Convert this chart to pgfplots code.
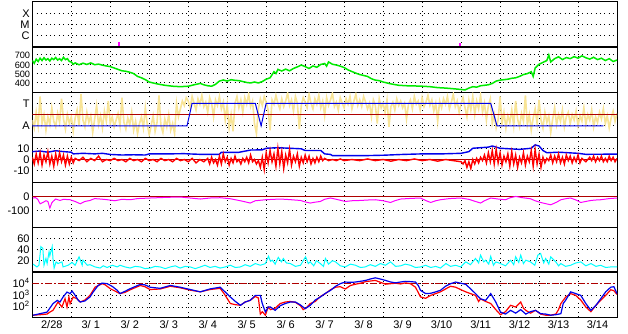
\documentclass[border=0pt]{standalone}
\usepackage{fontspec}
\setmainfont{Liberation Sans}
\usepackage{pgfplots}
\pgfplotsset{compat=1.18}
\definecolor{dred}{RGB}{175,0,0}
\definecolor{gcol}{RGB}{0,235,0}
\definecolor{bcol}{RGB}{0,0,235}
\definecolor{rcol}{RGB}{255,0,0}
\definecolor{ycol}{RGB}{248,228,150}
\definecolor{ccol}{RGB}{0,255,255}
\definecolor{mcol}{RGB}{255,0,255}
\pgfplotsset{
 panel/.style={
  scale only axis, width=584.7pt, height=45pt, xmin=0, xmax=15,
  anchor=north west, axis line style={black, line width=1pt},
  xtick={1,...,14}, xticklabels={}, major tick length=0pt, minor tick length=0pt,
  grid=major, grid style={black, line width=1pt, dash pattern=on 1pt off 3.4pt},
  tick label style={font=\fontsize{11}{12}\selectfont},
  /pgf/number format/assume math mode=true,
  yticklabel style={inner ysep=0pt, inner xsep=2.5pt, text height=7.6pt, text depth=0pt},
 }
}
\begin{document}
\begin{tikzpicture}
\useasboundingbox (0,0) rectangle (628pt,-334pt);
% Panel 1: flare class
\begin{axis}[panel, at={(32.3pt,-2pt)}, ymin=0, ymax=4, ytick={1,2,3}, yticklabels={C,M,X}]
\addplot[mcol, line width=1.6pt, ycomb, no marks] coordinates {(2.23,0.45) (10.97,0.38)};
\end{axis}
% Panel 2: speed
\begin{axis}[panel, at={(32.3pt,-47pt)}, ymin=303, ymax=785, ytick={400,500,600,700},
  yticklabel style={font=\fontsize{9.2}{9.2}\selectfont, inner xsep=2pt}]
\addplot[gcol, line width=1.5pt, no marks] coordinates {
(0.0,640)(0.05,610)(0.1,655)(0.15,630)(0.2,665)(0.25,640)(0.3,670)(0.35,645)(0.4,660)(0.45,635)
(0.5,665)(0.55,650)(0.6,672)(0.65,645)(0.7,660)(0.75,640)(0.8,675)(0.85,650)(0.9,660)(0.95,630)
(1.0,625)(1.05,600)(1.1,615)(1.2,595)(1.3,612)(1.4,598)(1.5,615)(1.6,595)(1.7,602)(1.8,590)
(1.9,582)(2.0,575)(2.1,560)(2.2,545)(2.3,530)(2.4,525)(2.5,515)(2.6,500)(2.7,470)(2.8,455)
(2.9,435)(3.0,410)(3.1,400)(3.2,390)(3.4,375)(3.6,365)(3.8,360)(4.0,365)(4.1,375)(4.2,385)
(4.31,395)(4.4,380)(4.5,370)(4.6,365)(4.7,385)(4.8,420)(4.9,432)(5.0,420)(5.1,435)(5.2,428)
(5.3,425)(5.4,415)(5.5,405)(5.6,400)(5.7,410)(5.8,400)(5.9,415)(6.0,440)(6.1,455)(6.2,520)
(6.25,500)(6.3,545)(6.4,528)(6.5,548)(6.6,530)(6.7,555)(6.8,572)(6.9,592)(7.0,575)(7.1,555)
(7.2,582)(7.3,568)(7.4,598)(7.5,608)(7.55,580)(7.6,625)(7.7,600)(7.8,592)(7.9,580)(8.0,565)
(8.1,540)(8.2,522)(8.3,505)(8.4,490)(8.5,480)(8.6,470)(8.7,445)(8.8,430)(8.9,425)(9.0,410)
(9.2,390)(9.4,375)(9.6,370)(9.8,368)(10.0,365)(10.2,360)(10.4,350)(10.6,345)(10.8,338)(11.0,330)
(11.1,325)(11.2,345)(11.3,360)(11.4,355)(11.5,370)(11.6,375)(11.7,380)(11.8,395)(11.9,420)(12.0,430)
(12.1,435)(12.2,440)(12.3,450)(12.4,455)(12.5,470)(12.6,490)(12.7,500)(12.8,520)(12.85,470)(12.9,560)
(13.0,600)(13.1,620)(13.2,640)(13.25,700)(13.3,625)(13.4,660)(13.5,680)(13.6,650)(13.7,672)(13.8,660)
(13.9,682)(14.0,665)(14.1,690)(14.2,670)(14.3,655)(14.4,675)(14.5,650)(14.6,665)(14.7,640)(14.8,660)
(14.9,630)(15.0,645)};
\end{axis}
% Panel 3: sector
\begin{axis}[panel, at={(32.3pt,-92pt)}, ymin=0, ymax=4, ytick={1,3}, yticklabels={A,T}]
\addplot[ycol, line width=1.6pt, no marks] coordinates {
(0.0,1.5)(0.05,0.8)(0.1,2.2)(0.15,1.0)(0.2,3.6)(0.25,1.2)(0.3,2.0)(0.35,0.6)(0.4,1.8)(0.45,1.1)
(0.5,2.6)(0.55,1.4)(0.6,0.9)(0.65,2.1)(0.7,1.3)(0.75,3.4)(0.8,1.6)(0.85,0.7)(0.9,2.0)(0.95,1.2)
(1.0,1.8)(1.05,0.5)(1.1,1.7)(1.15,2.4)(1.2,1.0)(1.25,3.8)(1.3,1.5)(1.35,0.9)(1.4,2.2)(1.45,1.3)
(1.5,1.9)(1.55,0.4)(1.6,1.6)(1.65,2.8)(1.7,1.1)(1.75,1.9)(1.8,0.8)(1.85,2.3)(1.9,1.4)(1.95,3.2)
(2.0,1.2)(2.05,1.8)(2.1,0.9)(2.15,1.5)(2.2,2.1)(2.25,1.0)(2.3,3.5)(2.35,1.3)(2.4,0.7)(2.45,1.7)
(2.5,1.1)(2.55,2.2)(2.6,0.6)(2.65,1.4)(2.7,0.3)(2.75,1.2)(2.8,1.8)(2.85,0.8)(2.9,2.6)(2.95,1.1)
(3.0,0.2)(3.05,1.0)(3.1,1.9)(3.15,0.5)(3.2,1.3)(3.25,3.7)(3.3,1.0)(3.35,0.4)(3.4,1.6)(3.45,0.9)
(3.5,2.0)(3.55,0.6)(3.6,1.2)(3.65,0.3)(3.7,3.0)(3.75,1.8)(3.8,2.5)(3.85,3.2)(3.9,2.8)(3.95,3.5)
(4.0,3.2)(4.05,2.6)(4.1,3.6)(4.15,3.0)(4.2,2.4)(4.25,3.4)(4.3,2.9)(4.35,3.7)(4.4,2.7)(4.45,3.1)
(4.5,2.2)(4.55,3.5)(4.6,3.0)(4.65,1.8)(4.7,3.3)(4.75,2.8)(4.8,3.6)(4.85,2.5)(4.9,3.1)(4.95,1.5)
(5.0,2.9)(5.05,0.8)(5.1,2.0)(5.15,0.5)(5.2,3.0)(5.25,3.6)(5.3,2.6)(5.35,3.3)(5.4,2.2)(5.45,3.5)
(5.5,2.9)(5.55,3.8)(5.6,2.7)(5.65,3.2)(5.7,1.2)(5.75,0.3)(5.8,2.5)(5.85,3.4)(5.9,2.8)(5.95,3.6)
(6.0,3.1)(6.05,2.4)(6.1,0.6)(6.15,3.3)(6.2,2.9)(6.25,3.7)(6.3,3.0)(6.35,2.5)(6.4,3.4)(6.45,2.7)
(6.5,3.2)(6.55,3.9)(6.6,2.8)(6.65,3.3)(6.7,2.3)(6.75,3.6)(6.8,3.0)(6.85,0.7)(6.9,2.8)(6.95,3.5)
(7.0,3.1)(7.05,2.6)(7.1,3.8)(7.15,3.0)(7.2,2.5)(7.25,3.4)(7.3,2.9)(7.35,3.7)(7.4,2.6)(7.45,3.2)
(7.5,1.9)(7.55,3.5)(7.6,2.8)(7.65,3.3)(7.7,3.9)(7.75,2.7)(7.8,3.1)(7.85,2.4)(7.9,3.5)(7.95,3.0)
(8.0,2.6)(8.05,3.4)(8.1,2.9)(8.15,3.6)(8.2,2.5)(8.25,3.2)(8.3,3.8)(8.35,2.8)(8.4,3.3)(8.45,2.7)
(8.5,3.6)(8.55,3.1)(8.6,2.5)(8.65,3.0)(8.7,1.8)(8.75,3.3)(8.8,2.8)(8.85,1.2)(8.9,3.4)(8.95,2.6)
(9.0,3.0)(9.05,2.2)(9.1,3.3)(9.15,0.9)(9.2,2.7)(9.25,3.1)(9.3,2.4)(9.35,3.4)(9.4,2.8)(9.45,3.2)
(9.5,2.6)(9.55,3.0)(9.6,1.6)(9.65,2.9)(9.7,3.3)(9.75,2.5)(9.8,3.6)(9.85,2.9)(9.9,3.2)(9.95,2.4)
(10.0,3.5)(10.05,2.7)(10.1,3.1)(10.15,3.7)(10.2,2.8)(10.25,3.3)(10.3,2.3)(10.35,3.0)(10.4,1.4)(10.45,3.2)
(10.5,2.6)(10.55,3.4)(10.6,2.9)(10.65,3.6)(10.7,2.5)(10.75,3.1)(10.8,3.8)(10.85,2.7)(10.9,3.2)(10.95,2.2)
(11.0,3.0)(11.05,3.5)(11.1,2.6)(11.15,1.8)(11.2,3.3)(11.25,2.4)(11.3,3.6)(11.35,2.0)(11.4,3.2)(11.45,2.5)
(11.5,3.7)(11.55,2.2)(11.6,3.0)(11.65,1.5)(11.7,2.8)(11.75,3.4)(11.8,1.2)(11.85,2.0)(11.9,0.8)(11.95,1.5)
(12.0,3.6)(12.05,1.2)(12.1,2.2)(12.15,0.8)(12.2,1.9)(12.25,1.3)(12.3,2.4)(12.35,1.0)(12.4,3.2)(12.45,1.6)
(12.5,0.9)(12.55,2.1)(12.6,1.4)(12.65,3.7)(12.7,1.1)(12.75,2.0)(12.8,0.6)(12.85,1.7)(12.9,2.5)(12.95,1.2)
(13.0,3.3)(13.05,1.5)(13.1,0.8)(13.15,2.2)(13.2,1.3)(13.25,1.9)(13.3,0.4)(13.35,1.6)(13.4,2.6)(13.45,1.1)
(13.5,2.0)(13.55,1.4)(13.6,2.4)(13.65,0.9)(13.7,1.8)(13.75,2.2)(13.8,1.2)(13.85,2.0)(13.9,1.5)(13.95,2.3)
(14.0,1.0)(14.05,1.9)(14.1,1.4)(14.15,2.6)(14.2,1.1)(14.25,2.0)(14.3,1.5)(14.35,2.4)(14.4,0.9)(14.45,1.8)
(14.5,1.3)(14.55,2.2)(14.6,1.6)(14.65,2.5)(14.7,1.2)(14.75,1.9)(14.8,0.8)(14.85,1.7)(14.9,2.3)(14.95,1.4)
(15.0,2.1)};
\addplot[dred, line width=1pt, no marks] coordinates {(0,2)(15,2)};
\addplot[bcol, line width=1pt, no marks] coordinates {
(0,1)(3.97,1)(4.1,3)(5.72,3)(5.87,1)(6.0,3)(11.76,3)(11.92,1)(14.65,1)};
\end{axis}
% Panel 4: IMF
\begin{axis}[panel, at={(32.3pt,-137pt)}, ymin=-20, ymax=20, ytick={-10,0,10}]
\addplot[dred, line width=1pt, no marks] coordinates {(0,0)(15,0)};
\addplot[bcol, line width=1.4pt, no marks] coordinates {
(0,7)(0.2,7.5)(0.4,6.5)(0.6,7.8)(0.8,7)(1.0,6.5)(1.05,5)(1.3,5.5)(1.6,5)(1.8,5.5)(2.0,4.5)(2.3,4)
(2.6,4.2)(2.9,4)(3.0,5)(3.5,5)(3.9,5.2)(4.0,5)(4.3,4.6)(4.8,4.6)(4.85,6.4)(5.3,6.4)(5.6,8.4)(5.9,8.6)
(6.0,10)(6.3,10.5)(6.6,10)(6.9,9.5)(7.0,8)(7.4,8)(7.5,5)(7.65,4.5)(7.7,3.4)(8.5,3.4)(9.0,3.8)(9.5,4.5)
(10.0,5)(10.5,5)(11.0,5.5)(11.2,7)(11.3,10)(11.7,11)(11.8,12)(12.0,10)(12.5,9)(12.8,10)(12.9,13)(13.0,12)
(13.1,8)(13.2,6)(13.5,6.5)(14.0,5.5)(14.2,4.6)(15,4.8)};
\addplot[rcol, line width=1.4pt, no marks] coordinates {
(0.0,2)(0.05,-4)(0.1,5)(0.15,-3)(0.2,6)(0.25,-5)(0.3,4)(0.35,-2)(0.4,7)(0.45,-4)(0.5,3)(0.55,-6)
(0.6,5)(0.65,-3)(0.7,6)(0.75,-2)(0.8,4)(0.85,-5)(0.9,3)(0.95,-4)(1.0,2)(1.05,-3)(1.1,1)(1.2,-1)
(1.3,2)(1.4,-2)(1.5,1)(1.6,-1)(1.7,3)(1.8,-2)(1.9,0)(2.0,-1)(2.1,1)(2.2,-1)(2.3,0)(2.4,-2)
(2.5,1)(2.6,-1)(2.7,0)(2.8,-2)(2.9,1)(3.0,-1)(3.1,0)(3.2,-2)(3.3,1)(3.4,-1)(3.5,0)(3.6,-2)
(3.7,1)(3.8,-1)(3.9,0)(4.0,-2)(4.1,1)(4.2,-3)(4.3,0)(4.4,-2)(4.5,1)(4.55,-4)(4.6,2)(4.65,-3)
(4.7,0)(4.75,-5)(4.8,3)(4.85,-4)(4.9,5)(4.95,-2)(5.0,2)(5.05,-5)(5.1,1)(5.15,-3)(5.2,3)(5.25,-2)
(5.3,0)(5.35,-4)(5.4,1)(5.45,-2)(5.5,2)(5.55,-3)(5.6,4)(5.65,-2)(5.7,0)(5.75,-4)(5.8,-1)(5.85,-7)
(5.9,2)(5.95,-9)(6.0,6)(6.05,-3)(6.1,8)(6.15,-2)(6.2,5)(6.25,-6)(6.3,10)(6.35,-4)(6.4,7)(6.45,-8)
(6.5,4)(6.55,-3)(6.6,9)(6.65,-5)(6.7,3)(6.75,-2)(6.8,5)(6.85,-6)(6.9,2)(6.95,-3)(7.0,4)(7.05,-2)
(7.1,3)(7.15,-4)(7.2,1)(7.25,-3)(7.3,2)(7.35,-2)(7.4,3)(7.45,-1)(7.5,1)(7.6,-1)(7.7,0)(7.8,-1)
(7.9,0.5)(8.0,-1)(8.2,0)(8.4,-1)(8.6,0.5)(8.8,-1)(9.0,0)(9.2,-1.5)(9.4,0)(9.6,-1)(9.8,0.5)(10.0,-1)
(10.2,0)(10.4,-1.5)(10.6,0)(10.8,-1)(11.0,-2)(11.05,-4)(11.1,-1)(11.15,-7)(11.2,-2)(11.25,-8)(11.3,0)(11.35,-4)
(11.4,1)(11.45,-3)(11.5,2)(11.55,-1)(11.6,4)(11.65,-3)(11.7,6)(11.75,-2)(11.8,8)(11.85,-4)(11.9,9)(11.95,-3)
(12.0,6)(12.05,-5)(12.1,3)(12.15,-2)(12.2,5)(12.25,-6)(12.3,7)(12.35,-4)(12.4,4)(12.45,-7)(12.5,2)(12.55,-3)
(12.6,6)(12.65,-5)(12.7,3)(12.75,-2)(12.8,8)(12.85,-6)(12.9,9)(12.95,-4)(13.0,5)(13.05,-7)(13.1,2)(13.15,-3)
(13.2,1)(13.25,-1)(13.3,4)(13.35,-3)(13.4,3)(13.45,-2)(13.5,5)(13.55,-3)(13.6,2)(13.65,-4)(13.7,4)(13.75,-1)
(13.8,3)(13.85,-3)(13.9,2)(13.95,-2)(14.0,4)(14.05,-3)(14.1,1)(14.2,-2)(14.3,2)(14.35,-1)(14.4,3)(14.45,-2)
(14.5,2)(14.55,-1)(14.6,3)(14.65,-2)(14.7,1)(14.75,-2)(14.8,3)(14.85,-1)(14.9,2)(14.95,-2)(15.0,1)};
\end{axis}
% Panel 5: Dst
\begin{axis}[panel, at={(32.3pt,-182pt)}, ymin=-212, ymax=100, ytick={-100,0}]
\addplot[dred, line width=1pt, no marks] coordinates {(0,0)(15,0)};
\addplot[mcol, line width=1pt, no marks] coordinates {
(0.02,-11)(0.08,-8)(0.14,-20)(0.2,-51)(0.27,-42)(0.35,-30)(0.4,-35)(0.45,-81)(0.5,-45)(0.53,-35)
(0.6,-18)(0.71,-28)(0.8,-20)(0.97,-23)(1.1,-35)(1.23,-51)(1.35,-35)(1.48,-28)(1.6,-15)(1.74,-18)
(1.9,-22)(2.12,-30)(2.3,-20)(2.51,-23)(2.7,-15)(3.02,-11)(3.3,-8)(3.5,-6)(3.79,-4)(4.05,-11)
(4.31,-18)(4.56,-11)(4.82,-9)(5.08,-16)(5.34,-30)(5.5,-40)(5.59,-46)(5.72,-30)(5.98,-23)(6.2,-20)
(6.36,-18)(6.6,-22)(6.88,-28)(7.0,-38)(7.13,-46)(7.25,-40)(7.39,-35)(7.5,-20)(7.65,-11)(7.8,-20)
(8.03,-35)(8.2,-30)(8.42,-28)(8.6,-25)(8.8,-23)(9.0,-30)(9.19,-42)(9.3,-30)(9.45,-18)(9.7,-14)
(9.96,-11)(10.09,-28)(10.22,-42)(10.35,-30)(10.47,-23)(10.7,-15)(10.99,-11)(11.2,-20)(11.37,-35)(11.5,-46)
(11.6,-30)(11.76,-11)(11.95,-18)(12.14,-23)(12.25,-10)(12.4,0)(12.55,-8)(12.78,-16)(12.9,-30)(13.04,-42)
(13.2,-52)(13.3,-58)(13.45,-40)(13.56,-23)(13.7,-15)(13.81,-11)(13.95,-25)(14.07,-42)(14.2,-35)(14.33,-28)
(14.45,-25)(14.58,-23)(14.8,-15)(15.0,-11)};
\end{axis}
% Panel 6
\begin{axis}[panel, at={(32.3pt,-227pt)}, ymin=0, ymax=80, ytick={20,40,60}]
\addplot[ccol, line width=1pt, no marks] coordinates {
(0.02,14)(0.12,9)(0.17,12)(0.22,45)(0.27,42)(0.30,12)(0.35,24)(0.38,15)(0.43,36)(0.45,29)
(0.51,45)(0.53,24)(0.56,7)(0.61,18)(0.66,15)(0.76,18)(0.79,9)(0.92,12)(1.02,17)(1.10,12)
(1.20,27)(1.28,12)(1.30,21)(1.41,12)(1.48,13)(1.61,9)(1.74,7)(1.82,11)(1.92,8)(2.05,12)
(2.18,9)(2.25,12)(2.38,9)(2.51,7)(2.64,10)(2.77,9)(2.89,6)(3.02,7)(3.15,10)(3.28,9)
(3.41,6)(3.54,9)(3.67,11)(3.79,7)(3.92,10)(4.05,9)(4.18,6)(4.31,9)(4.43,12)(4.56,8)
(4.69,10)(4.82,7)(4.95,9)(5.08,12)(5.21,8)(5.34,9)(5.46,13)(5.59,10)(5.72,15)(5.85,12)
(5.98,15)(6.06,28)(6.11,19)(6.16,21)(6.23,14)(6.31,26)(6.39,18)(6.44,24)(6.52,16)(6.62,15)
(6.75,10)(6.88,12)(6.95,20)(7.01,27)(7.08,15)(7.13,18)(7.22,11)(7.29,20)(7.39,15)(7.47,10)
(7.52,24)(7.60,14)(7.70,20)(7.78,18)(7.90,11)(8.03,9)(8.16,14)(8.29,12)(8.42,8)(8.54,9)
(8.67,13)(8.80,10)(8.93,15)(9.06,12)(9.19,18)(9.32,10)(9.45,11)(9.57,14)(9.70,12)(9.83,8)
(9.96,9)(10.09,12)(10.22,8)(10.35,10)(10.47,7)(10.61,15)(10.73,10)(10.86,12)(10.99,9)(11.12,18)
(11.24,13)(11.37,24)(11.45,16)(11.50,30)(11.58,18)(11.63,21)(11.71,14)(11.76,28)(11.83,12)(11.89,18)
(12.01,15)(12.14,11)(12.27,21)(12.35,13)(12.40,27)(12.48,17)(12.53,30)(12.60,15)(12.66,21)(12.78,18)
(12.89,12)(12.97,30)(13.04,33)(13.12,16)(13.17,24)(13.25,14)(13.30,27)(13.43,18)(13.50,11)(13.56,15)
(13.68,10)(13.81,12)(13.94,16)(14.07,18)(14.20,11)(14.33,15)(14.46,10)(14.58,12)(14.71,8)(14.84,9)
(15.0,9)};
\end{axis}
% Panel 7: electron flux
\begin{axis}[panel, at={(32.3pt,-272pt)}, ymode=log, ymin=14, ymax=1e5,
  ytick={100,1000,10000}, yticklabels={10\textsuperscript{2},10\textsuperscript{3},10\textsuperscript{4}},
  extra x ticks={0.5,1.5,...,14.5},
  extra x tick labels={2/28,3/ 1,3/ 2,3/ 3,3/ 4,3/ 5,3/ 6,3/ 7,3/ 8,3/ 9,3/10,3/11,3/12,3/13,3/14},
  extra x tick style={grid=none, major tick length=0pt}]
\addplot[dred, line width=1pt, no marks, dash pattern=on 7pt off 2pt on 2pt off 2pt] coordinates {(0,10000)(15,10000)};
\addplot[rcol, line width=1.2pt, no marks] coordinates {
(0.02,20)(0.2,22)(0.38,25)(0.45,37)(0.53,52)(0.66,269)(0.76,100)(0.84,525)(0.89,100)(0.94,724)
(0.97,195)(1.05,724)(1.15,501)(1.23,269)(1.35,400)(1.48,1000)(1.61,5012)(1.79,10000)(1.87,8000)(2.0,3715)
(2.12,2344)(2.25,1413)(2.38,1800)(2.51,3000)(2.77,7000)(2.89,5500)(3.02,3162)(3.28,3500)(3.54,6000)(3.79,4500)
(4.05,2800)(4.31,1995)(4.56,3162)(4.82,4000)(4.92,1413)(5.08,200)(5.21,160)(5.34,141)(5.46,269)(5.59,372)
(5.72,800)(5.8,600)(5.85,25)(5.9,40)(5.98,20)(6.05,100)(6.11,60)(6.23,80)(6.36,200)(6.49,269)
(6.62,300)(6.75,250)(6.88,130)(6.95,60)(7.05,100)(7.13,200)(7.26,300)(7.39,800)(7.52,1413)(7.65,3000)
(7.78,5000)(7.9,5500)(8.03,3500)(8.16,7000)(8.29,9000)(8.42,11000)(8.55,15000)(8.8,19050)(9.06,9000)(9.19,10000)
(9.32,11000)(9.45,9500)(9.57,11749)(9.7,10000)(9.83,5000)(9.96,724)(10.09,560)(10.22,1000)(10.35,1413)(10.47,2000)
(10.6,3500)(10.73,6000)(10.86,5000)(11.0,3000)(11.12,2000)(11.24,1413)(11.37,1000)(11.45,300)(11.5,500)(11.63,300)
(11.76,200)(11.89,60)(12.01,22)(12.14,40)(12.27,141)(12.4,100)(12.53,269)(12.6,80)(12.66,52)(12.78,30)
(12.91,52)(13.04,25)(13.17,20)(13.3,20)(13.43,25)(13.5,60)(13.56,200)(13.68,700)(13.81,1413)(13.94,1000)
(14.07,400)(14.2,100)(14.33,40)(14.46,141)(14.58,372)(14.71,1000)(14.84,3000)(14.92,2500)(15.0,1200)};
\addplot[bcol, line width=1.2pt, no marks] coordinates {
(0.02,20)(0.2,27)(0.38,37)(0.53,195)(0.64,372)(0.71,269)(0.79,724)(0.89,1905)(0.97,1413)(1.02,2344)
(1.1,1000)(1.18,372)(1.23,269)(1.35,331)(1.48,724)(1.56,1905)(1.69,7079)(1.79,11220)(1.92,10000)(2.05,5900)
(2.18,2692)(2.25,1413)(2.38,2239)(2.51,3715)(2.77,8710)(2.89,7943)(3.02,5012)(3.28,3981)(3.54,7079)(3.79,5012)
(4.05,3162)(4.31,1995)(4.56,3548)(4.82,5012)(5.08,724)(5.21,300)(5.34,141)(5.46,269)(5.59,372)(5.72,1000)
(5.85,1000)(5.9,200)(5.98,37)(6.05,100)(6.11,100)(6.23,52)(6.36,130)(6.49,200)(6.62,269)(6.75,269)
(6.88,150)(7.0,72)(7.13,141)(7.26,400)(7.39,724)(7.52,1500)(7.65,2692)(7.78,6000)(7.9,10000)(8.03,13800)
(8.16,13000)(8.29,13800)(8.42,16000)(8.55,19050)(8.67,25000)(8.8,31620)(8.93,25000)(9.06,19050)(9.19,14000)(9.32,11749)
(9.45,14000)(9.57,15850)(9.7,15000)(9.83,13800)(9.9,7079)(9.96,2692)(10.09,1413)(10.22,1500)(10.35,2000)(10.47,2692)
(10.6,6000)(10.73,10000)(10.86,13800)(10.99,11000)(11.12,8710)(11.24,3715)(11.37,1413)(11.5,501)(11.63,372)(11.76,1413)
(11.89,269)(12.01,37)(12.14,25)(12.27,52)(12.4,30)(12.53,60)(12.66,25)(12.78,40)(12.91,52)(13.04,27)
(13.17,25)(13.3,20)(13.43,22)(13.56,27)(13.62,200)(13.68,372)(13.81,1995)(13.94,1413)(14.07,1000)(14.2,200)
(14.33,52)(14.46,141)(14.58,501)(14.71,1995)(14.84,5012)(14.92,5500)(15.0,1413)};
\end{axis}
\end{tikzpicture}
\end{document}
